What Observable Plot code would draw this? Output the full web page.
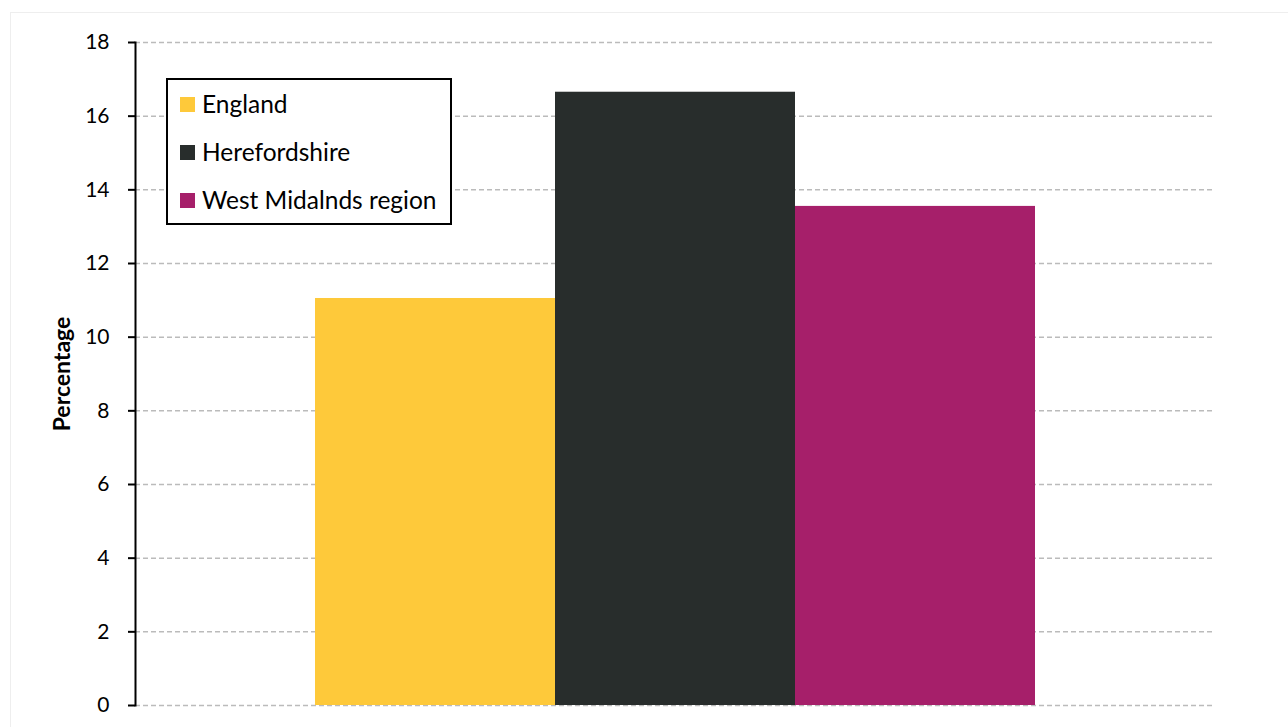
<!DOCTYPE html>
<html>
<head>
<meta charset="utf-8">
<script src="https://cdn.jsdelivr.net/npm/d3@7"></script>
<script src="https://cdn.jsdelivr.net/npm/@observablehq/plot@0.6"></script>
<style>
  html, body { margin: 0; padding: 0; background: #fff; }
  #wrap { position: relative; width: 1288px; height: 727px; overflow: hidden; font-family: Lato, "Open Sans", sans-serif; }
  #frame { position: absolute; left: 10px; top: 12px; width: 1300px; height: 740px; border-top: 1px solid #eeeeee; border-left: 1px solid #eeeeee; box-sizing: border-box; pointer-events: none; }
  #chart { position: absolute; left: 0; top: 0; }
  #legend { position: absolute; left: 166px; top: 78px; width: 286px; height: 147px; box-sizing: border-box; border: 2px solid #000; background: #fff; padding: 0 0 0 12px; }
  .item { display: flex; align-items: center; height: 48px; font-size: 24.5px; color: #000; line-height: 1; }
  .sw { width: 15px; height: 15px; margin-right: 7px; flex: none; }
</style>
</head>
<body>
<div id="wrap">
  <div id="frame"></div>
  <div id="chart"></div>
  <div id="legend"></div>
</div>
<script>
const categories = ["England", "Herefordshire", "West Midalnds region"];
const values = [11.05, 16.65, 13.55];
const colors = ["#FEC93A", "#282D2C", "#A61F6A"];
const yTicks = [0, 2, 4, 6, 8, 10, 12, 14, 16, 18];

const data = categories.map((c, i) => ({category: c, value: values[i]}));

const chart = Plot.plot({
  width: 1288,
  height: 727,
  marginTop: 42,
  marginBottom: 22,
  marginLeft: 135,
  marginRight: 74,
  style: {fontFamily: "Lato, 'Open Sans', sans-serif", background: "transparent"},
  x: {domain: categories, paddingInner: 0, paddingOuter: 0.745, axis: null},
  y: {domain: [0, 18], ticks: yTicks},
  color: {domain: categories, range: colors},
  marks: [
    Plot.gridY(yTicks, {stroke: "#bbbbbb", strokeOpacity: 1, strokeWidth: 1.5, strokeDasharray: "5,3"}),
    Plot.barY(data, {x: "category", y: "value", fill: "category"}),
    Plot.axisY(yTicks, {
      tickSize: 7, tickPadding: 19, fontSize: 21, stroke: "#000", strokeWidth: 2,
      label: "Percentage", labelAnchor: "center", labelArrow: "none", labelOffset: 82
    }),
    Plot.frame({anchor: "left", stroke: "#000", strokeWidth: 2})
  ]
});
chart.querySelectorAll("g[aria-label='y-axis label'] text").forEach(t => {
  t.setAttribute("font-weight", "bold");
  t.setAttribute("font-size", "23");
});
document.getElementById("chart").appendChild(chart);

const legend = document.getElementById("legend");
categories.forEach((c, i) => {
  const row = document.createElement("div");
  row.className = "item";
  const sw = document.createElement("span");
  sw.className = "sw";
  sw.style.background = colors[i];
  const lab = document.createElement("span");
  lab.textContent = c;
  row.appendChild(sw);
  row.appendChild(lab);
  legend.appendChild(row);
});
</script>
</body>
</html>
